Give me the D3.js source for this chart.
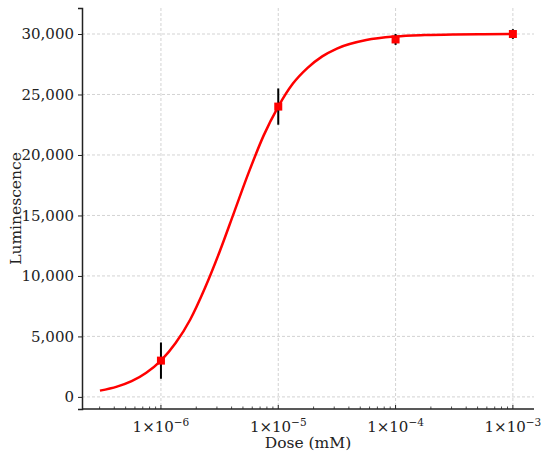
<!DOCTYPE html>
<html>
<head>
<meta charset="utf-8">
<script src="https://cdn.jsdelivr.net/npm/d3@7"></script>
<style>
  body { margin: 0; background: #fff; }
  text { font-family: "DejaVu Serif", serif; fill: #222; }
</style>
</head>
<body>
<svg id="chart" width="550" height="457"></svg>
<script>
// measured points
const doses = [1e-6, 1e-5, 1e-4, 1e-3];
const means = [3000, 24000, 29550, 30000];
const errors = [1500, 1500, 450, 400];

// fitted curve (log10 dose, luminescence)
const curveLogDoses = [-6.52, -6.375, -6.25, -6.125, -6, -5.875, -5.75, -5.625, -5.5, -5.375, -5.25, -5.125,
  -5, -4.875, -4.75, -4.625, -4.5, -4.25, -4, -3.75, -3.5, -3.25, -3];
const curveValues = [520, 850, 1300, 2000, 3000, 4450, 6400, 9000, 12000, 15300, 18600, 21600,
  24000, 25900, 27200, 28150, 28800, 29500, 29800, 29915, 29965, 29985, 29995];

const yTicks = [0, 5000, 10000, 15000, 20000, 25000, 30000];
const xTicks = [1e-6, 1e-5, 1e-4, 1e-3];
const xTickExps = ["−6", "−5", "−4", "−3"];

const margin = { top: 8, right: 16, bottom: 48, left: 82 };
const width = 550, height = 457;
const svg = d3.select('#chart');

const x = d3.scaleLog()
  .domain([Math.pow(10, -6.673), Math.pow(10, -2.82)])
  .range([margin.left, width - margin.right]);
const y = d3.scaleLinear()
  .domain([-1000, 32150])
  .range([height - margin.bottom, margin.top]);

// grid
const grid = svg.append('g').attr('class', 'grid')
  .attr('stroke', '#c8c8c8').attr('stroke-dasharray', '3,2').attr('stroke-width', 0.8);
grid.selectAll('.gy').data(yTicks).enter().append('line')
  .attr('x1', margin.left).attr('x2', width - margin.right)
  .attr('y1', d => y(d)).attr('y2', d => y(d));
grid.selectAll('.gx').data(xTicks).enter().append('line')
  .attr('y1', margin.top).attr('y2', height - margin.bottom)
  .attr('x1', d => x(d)).attr('x2', d => x(d));

// y axis
const yAxis = svg.append('g')
  .attr('transform', `translate(${margin.left},0)`)
  .call(d3.axisLeft(y).tickValues(yTicks).tickFormat(d3.format(',')).tickSize(4).tickPadding(4));
yAxis.select('.domain').attr('stroke', '#222').attr('stroke-width', 1.5);
yAxis.selectAll('.tick line').attr('stroke', '#222');
yAxis.selectAll('text').attr('font-size', 15).attr('fill', '#222');

// x axis with minor ticks, drawn inward
const minor = [];
for (let e = -7; e <= -3; e++) {
  for (let m = 2; m <= 9; m++) {
    const v = m * Math.pow(10, e);
    if (v >= x.domain()[0] && v <= x.domain()[1]) minor.push(v);
  }
}
const xg = svg.append('g').attr('transform', `translate(0,${height - margin.bottom})`);
xg.append('line')
  .attr('x1', margin.left).attr('x2', width - margin.right)
  .attr('stroke', '#222').attr('stroke-width', 1.5);
xg.selectAll('.minor').data(minor).enter().append('line')
  .attr('x1', d => x(d)).attr('x2', d => x(d))
  .attr('y1', 0).attr('y2', -2.5).attr('stroke', '#222').attr('stroke-width', 0.8);
xg.selectAll('.major').data(xTicks).enter().append('line')
  .attr('x1', d => x(d)).attr('x2', d => x(d))
  .attr('y1', 0).attr('y2', -4).attr('stroke', '#222').attr('stroke-width', 1);
const xl = xg.selectAll('.xlab').data(xTicks).enter().append('text')
  .attr('x', d => x(d)).attr('y', 23)
  .attr('text-anchor', 'middle').attr('font-size', 15);
xl.append('tspan').text('1×10');
xl.append('tspan').attr('dy', -6).attr('font-size', 10.5).text((d, i) => xTickExps[i]);

// axis titles
svg.append('text')
  .attr('x', (margin.left + width - margin.right) / 2).attr('y', 448)
  .attr('text-anchor', 'middle').attr('font-size', 15.5)
  .text('Dose (mM)');
svg.append('text')
  .attr('transform', `translate(21,${(margin.top + height - margin.bottom) / 2}) rotate(-90)`)
  .attr('text-anchor', 'middle').attr('font-size', 15.5)
  .text('Luminescence');

// fitted curve
const line = d3.line()
  .x((d, i) => x(Math.pow(10, curveLogDoses[i])))
  .y(d => y(d))
  .curve(d3.curveMonotoneX);
svg.append('path')
  .datum(curveValues)
  .attr('d', line)
  .attr('fill', 'none').attr('stroke', '#ff0000').attr('stroke-width', 2.5);

// error bars and markers
svg.selectAll('.err').data(doses).enter().append('line')
  .attr('x1', d => x(d)).attr('x2', d => x(d))
  .attr('y1', (d, i) => y(means[i] - errors[i]))
  .attr('y2', (d, i) => y(means[i] + errors[i]))
  .attr('stroke', '#000').attr('stroke-width', 2);
svg.selectAll('.pt').data(doses).enter().append('rect')
  .attr('x', d => x(d) - 4).attr('y', (d, i) => y(means[i]) - 4)
  .attr('width', 8).attr('height', 8)
  .attr('fill', '#ff0000');
</script>
</body>
</html>
